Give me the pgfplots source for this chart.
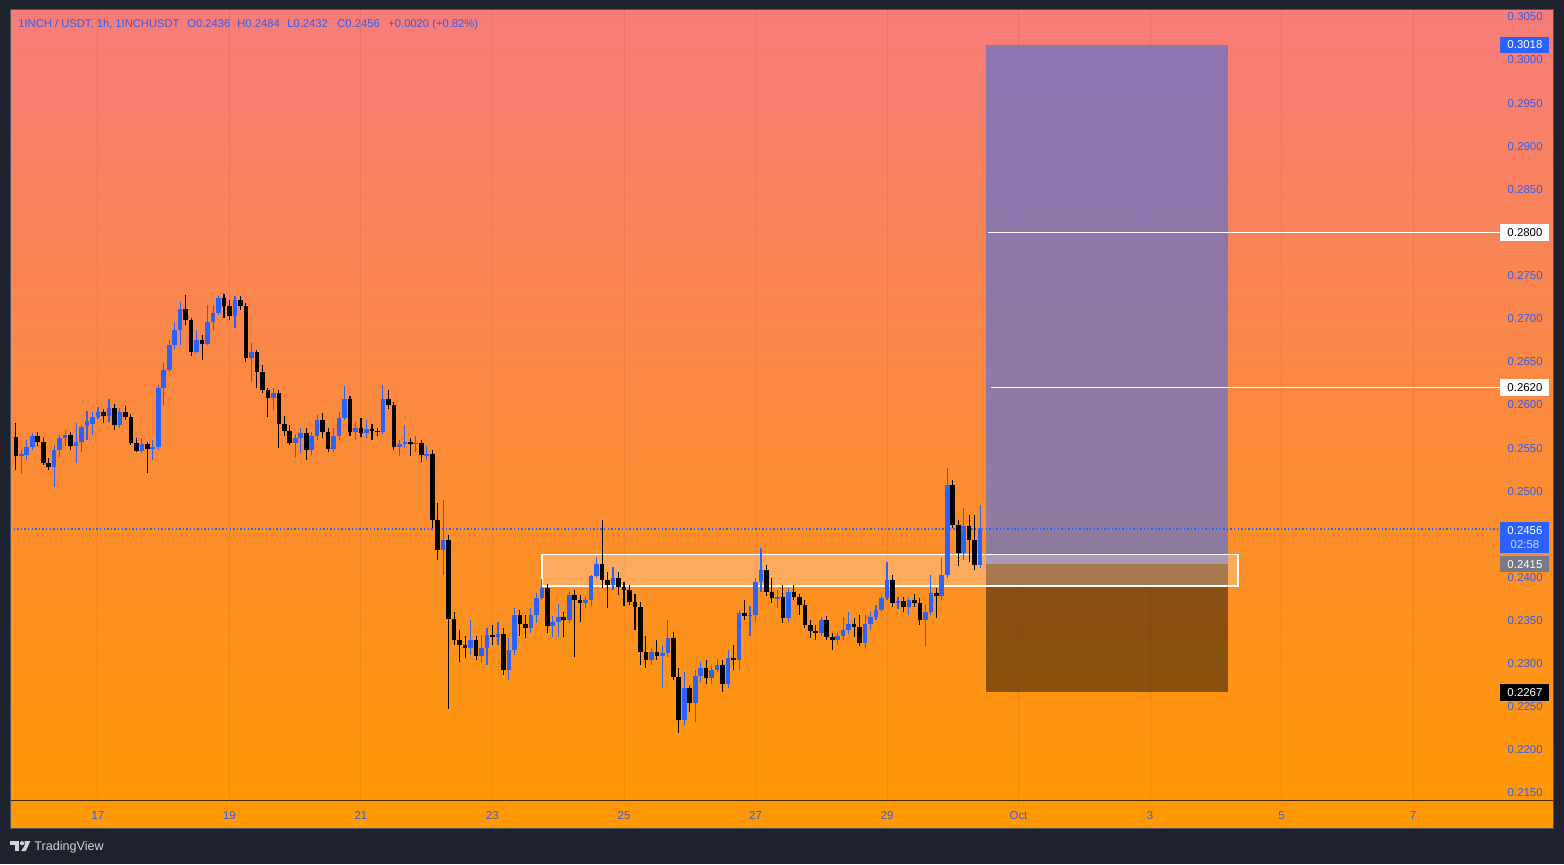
\documentclass[border=0pt]{standalone}
\usepackage{pgfplots}
\pgfplotsset{compat=1.18}
\usepackage{pgfplotstable}
\usepackage{fontspec}
\setmainfont{Liberation Sans}
\definecolor{frame}{RGB}{30,34,45}
\definecolor{bordergrey}{RGB}{80,83,94}
\definecolor{bgtop}{RGB}{247,124,122}
\definecolor{bgbot}{RGB}{255,152,0}
\definecolor{tvblue}{RGB}{41,98,255}
\definecolor{lblblue}{RGB}{50,95,235}
\definecolor{profit}{RGB}{107,116,199}
\definecolor{greylbl}{RGB}{120,123,134}
\definecolor{logogrey}{RGB}{209,212,220}
\definecolor{timecol}{RGB}{200,214,255}
\newcommand{\lblfont}{\fontsize{5.7}{7}\selectfont}

\pgfplotstableread{
t o h l c
-28 0.2541 0.2548 0.2520 0.2543
-26 0.2542 0.2559 0.2536 0.2551
-24 0.2551 0.2567 0.2548 0.2564
-16 0.2528 0.2554 0.2505 0.2548
-14 0.2548 0.2565 0.2540 0.2562
-12 0.2562 0.2571 0.2552 0.2565
-8 0.2552 0.2579 0.2533 0.2557
-6 0.2557 0.2577 0.2545 0.2574
-4 0.2576 0.2593 0.2559 0.2581
-2 0.2578 0.2592 0.2565 0.2586
0 0.2586 0.2598 0.2584 0.2592
4 0.2587 0.2607 0.2580 0.2596
8 0.2577 0.2596 0.2573 0.2592
16 0.2547 0.2562 0.2544 0.2555
20 0.2549 0.2559 0.2536 0.2551
22 0.2551 0.2623 0.2548 0.2620
24 0.2620 0.2649 0.2600 0.2641
26 0.2641 0.2675 0.2638 0.2670
28 0.2670 0.2696 0.2664 0.2687
30 0.2687 0.2719 0.2670 0.2711
36 0.2661 0.2687 0.2660 0.2675
40 0.2671 0.2716 0.2670 0.2696
42 0.2696 0.2716 0.2687 0.2707
44 0.2707 0.2726 0.2704 0.2724
50 0.2703 0.2726 0.2689 0.2722
56 0.2654 0.2672 0.2627 0.2661
64 0.2608 0.2620 0.2594 0.2614
72 0.2556 0.2566 0.2540 0.2562
74 0.2562 0.2573 0.2544 0.2567
78 0.2548 0.2569 0.2542 0.2564
80 0.2564 0.2588 0.2559 0.2583
86 0.2549 0.2573 0.2545 0.2564
88 0.2564 0.2592 0.2559 0.2585
90 0.2585 0.2622 0.2583 0.2607
94 0.2569 0.2580 0.2559 0.2573
98 0.2567 0.2583 0.2562 0.2572
104 0.2569 0.2623 0.2566 0.2607
110 0.2551 0.2559 0.2541 0.2555
112 0.2555 0.2577 0.2550 0.2557
116 0.2555 0.2564 0.2545 0.2556
120 0.2542 0.2552 0.2536 0.2543
126 0.2432 0.2490 0.2403 0.2443
136 0.2318 0.2351 0.2310 0.2327
140 0.2309 0.2333 0.2301 0.2318
142 0.2318 0.2341 0.2298 0.2333
146 0.2331 0.2348 0.2322 0.2334
150 0.2293 0.2330 0.2281 0.2316
152 0.2316 0.2364 0.2310 0.2357
158 0.2341 0.2364 0.2335 0.2356
160 0.2356 0.2382 0.2347 0.2376
162 0.2376 0.2398 0.2374 0.2388
166 0.2344 0.2355 0.2331 0.2348
168 0.2348 0.2369 0.2331 0.2354
172 0.2351 0.2383 0.2347 0.2380
178 0.2370 0.2377 0.2364 0.2374
180 0.2374 0.2403 0.2367 0.2402
182 0.2402 0.2424 0.2399 0.2416
188 0.2391 0.2412 0.2385 0.2399
202 0.2304 0.2318 0.2298 0.2313
206 0.2309 0.2322 0.2272 0.2312
208 0.2312 0.2351 0.2308 0.2330
214 0.2235 0.2290 0.2229 0.2272
218 0.2254 0.2293 0.2232 0.2286
220 0.2286 0.2302 0.2279 0.2295
224 0.2283 0.2299 0.2276 0.2293
226 0.2293 0.2306 0.2290 0.2299
230 0.2276 0.2316 0.2272 0.2306
234 0.2304 0.2362 0.2293 0.2359
238 0.2355 0.2367 0.2332 0.2357
240 0.2357 0.2399 0.2348 0.2395
242 0.2395 0.2434 0.2383 0.2409
248 0.2376 0.2385 0.2364 0.2377
252 0.2353 0.2388 0.2348 0.2383
264 0.2335 0.2354 0.2332 0.2351
270 0.2328 0.2337 0.2322 0.2332
272 0.2332 0.2354 0.2327 0.2339
274 0.2339 0.2360 0.2334 0.2346
280 0.2324 0.2357 0.2318 0.2346
282 0.2346 0.2360 0.2339 0.2354
284 0.2354 0.2368 0.2351 0.2362
286 0.2362 0.2380 0.2360 0.2376
288 0.2376 0.2418 0.2374 0.2397
292 0.2370 0.2377 0.2363 0.2373
296 0.2366 0.2376 0.2356 0.2374
302 0.2351 0.2369 0.2320 0.2360
304 0.2360 0.2403 0.2357 0.2382
308 0.2378 0.2422 0.2374 0.2403
310 0.2403 0.2527 0.2399 0.2507
316 0.2428 0.2480 0.2420 0.2460
322 0.2414 0.2484 0.2411 0.2456
}\upc

\pgfplotstableread{
t o h l c
-30 0.2563 0.2579 0.2525 0.2541
-22 0.2564 0.2569 0.2552 0.2557
-20 0.2557 0.2562 0.2530 0.2533
-18 0.2533 0.2538 0.2525 0.2528
-10 0.2565 0.2569 0.2548 0.2552
2 0.2592 0.2595 0.2579 0.2587
6 0.2596 0.2601 0.2571 0.2577
10 0.2592 0.2599 0.2583 0.2586
12 0.2586 0.2589 0.2554 0.2556
14 0.2556 0.2562 0.2545 0.2547
18 0.2555 0.2557 0.2521 0.2549
32 0.2711 0.2728 0.2693 0.2698
34 0.2698 0.2701 0.2657 0.2661
38 0.2675 0.2681 0.2652 0.2671
46 0.2724 0.2729 0.2701 0.2715
48 0.2715 0.2722 0.2698 0.2703
52 0.2722 0.2726 0.2710 0.2715
54 0.2715 0.2718 0.2650 0.2654
58 0.2661 0.2664 0.2620 0.2638
60 0.2638 0.2646 0.2614 0.2617
62 0.2617 0.2620 0.2586 0.2608
66 0.2614 0.2617 0.2550 0.2578
68 0.2578 0.2587 0.2564 0.2570
70 0.2570 0.2577 0.2554 0.2556
76 0.2567 0.2573 0.2536 0.2548
82 0.2583 0.2591 0.2562 0.2569
84 0.2569 0.2573 0.2545 0.2549
92 0.2607 0.2610 0.2564 0.2569
96 0.2573 0.2585 0.2563 0.2567
100 0.2572 0.2578 0.2559 0.2570
102 0.2570 0.2573 0.2564 0.2569
106 0.2607 0.2617 0.2595 0.2600
108 0.2600 0.2603 0.2548 0.2551
114 0.2557 0.2562 0.2541 0.2555
118 0.2556 0.2559 0.2534 0.2542
122 0.2543 0.2548 0.2457 0.2467
124 0.2467 0.2486 0.2420 0.2432
128 0.2443 0.2449 0.2248 0.2352
130 0.2352 0.2360 0.2322 0.2328
132 0.2328 0.2339 0.2302 0.2322
134 0.2322 0.2332 0.2306 0.2318
138 0.2327 0.2332 0.2304 0.2309
144 0.2333 0.2345 0.2322 0.2331
148 0.2334 0.2341 0.2287 0.2293
154 0.2357 0.2362 0.2332 0.2346
156 0.2346 0.2356 0.2330 0.2341
164 0.2388 0.2392 0.2335 0.2344
170 0.2354 0.2360 0.2331 0.2351
174 0.2380 0.2385 0.2308 0.2374
176 0.2374 0.2380 0.2348 0.2370
184 0.2416 0.2467 0.2388 0.2397
186 0.2397 0.2406 0.2364 0.2391
190 0.2399 0.2406 0.2380 0.2389
192 0.2389 0.2395 0.2367 0.2385
194 0.2385 0.2391 0.2368 0.2371
196 0.2371 0.2381 0.2339 0.2366
198 0.2366 0.2371 0.2298 0.2313
200 0.2313 0.2332 0.2295 0.2304
204 0.2313 0.2327 0.2304 0.2309
210 0.2330 0.2337 0.2281 0.2284
212 0.2284 0.2295 0.2220 0.2235
216 0.2272 0.2274 0.2244 0.2254
222 0.2295 0.2304 0.2276 0.2283
228 0.2299 0.2304 0.2267 0.2276
232 0.2306 0.2322 0.2293 0.2304
236 0.2359 0.2374 0.2351 0.2355
244 0.2409 0.2414 0.2378 0.2383
246 0.2383 0.2399 0.2370 0.2376
250 0.2377 0.2391 0.2347 0.2353
254 0.2383 0.2391 0.2374 0.2377
256 0.2377 0.2381 0.2356 0.2368
258 0.2368 0.2374 0.2341 0.2345
260 0.2345 0.2351 0.2330 0.2338
262 0.2338 0.2345 0.2327 0.2335
266 0.2351 0.2355 0.2327 0.2331
268 0.2331 0.2335 0.2316 0.2328
276 0.2346 0.2353 0.2331 0.2342
278 0.2342 0.2356 0.2320 0.2324
290 0.2397 0.2403 0.2366 0.2370
294 0.2373 0.2377 0.2360 0.2366
298 0.2374 0.2381 0.2366 0.2370
300 0.2370 0.2376 0.2345 0.2351
306 0.2382 0.2388 0.2353 0.2378
312 0.2507 0.2513 0.2457 0.2461
314 0.2461 0.2467 0.2413 0.2428
318 0.2460 0.2472 0.2418 0.2443
320 0.2443 0.2472 0.2409 0.2414
}\downc

\begin{document}
\begin{tikzpicture}[x=1pt,y=1pt]
\useasboundingbox (0,0) rectangle (782,432);
\fill[frame] (0,0) rectangle (782,432);
\shade[top color=bgtop, bottom color=bgbot] (5,18) rectangle (776.5,427);

\begin{axis}[
  at={(5pt,32pt)}, anchor=south west,
  width=743.5pt, height=395pt, scale only axis,
  xmin=-32.12, xmax=510.66, ymin=0.21419, ymax=0.30580,
  axis line style={draw=none},
  xtick={0,48,...,480},
  xticklabels={17,19,21,23,25,27,29,Oct,3,5,7},
  ytick={0.215,0.22,0.225,0.23,0.235,0.24,0.25,0.255,0.26,0.265,0.27,0.275,0.285,0.29,0.295,0.3,0.305},
  yticklabel pos=right,
  major tick length=0pt,
  xmajorgrids,
  grid style={black, opacity=0.06, line width=0.5pt},
  tick label style={font=\lblfont, text=lblblue, inner sep=0pt},
  xticklabel style={anchor=base, yshift=-9.5pt},
  yticklabel style={anchor=east, xshift=23pt, /pgf/number format/.cd, fixed, fixed zerofill, precision=4, assume math mode=true},
  clip=false,
  candle/.style={draw=none, mark=none, forget plot, error bars/.cd, y dir=both, y explicit, error mark=none},
]
% long position: profit and stop areas
\addplot[draw=none, fill=profit, fill opacity=0.75] coordinates {(324.1,0.2415) (412.5,0.2415) (412.5,0.3018) (324.1,0.3018)} -- cycle;
\addplot[draw=none, fill=black, fill opacity=0.45] coordinates {(324.1,0.2267) (412.5,0.2267) (412.5,0.2415) (324.1,0.2415)} -- cycle;
% zone
\addplot[draw=white, line width=0.6pt, fill=white, fill opacity=0.25] coordinates {(162.1,0.2390) (416.1,0.2390) (416.1,0.2427) (162.1,0.2427)} -- cycle;
% target lines
\addplot[white, line width=0.5pt] coordinates {(324.9,0.2800) (511.76,0.2800)};
\addplot[white, line width=0.5pt] coordinates {(326.0,0.2620) (511.76,0.2620)};
% current price dotted line
\addplot[tvblue, line width=0.7pt, dash pattern=on 0.7pt off 1.1pt] coordinates {(-32.12,0.2456) (511.76,0.2456)};

% candles: down (black)
\addplot[candle, error bar style={draw=black, line width=0.55pt}]
  table[x=t, y expr={(\thisrow{h}+\thisrow{l})/2}, y error expr={(\thisrow{h}-\thisrow{l})/2}] {\downc};
\addplot[candle, error bar style={draw=black, line width=2.3pt}]
  table[x=t, y expr={(\thisrow{o}+\thisrow{c})/2}, y error expr={max(abs(\thisrow{c}-\thisrow{o})/2,0.00003)}] {\downc};
% candles: up (blue)
\addplot[candle, error bar style={draw=tvblue, line width=0.55pt}]
  table[x=t, y expr={(\thisrow{h}+\thisrow{l})/2}, y error expr={(\thisrow{h}-\thisrow{l})/2}] {\upc};
\addplot[candle, error bar style={draw=tvblue, line width=2.3pt}]
  table[x=t, y expr={(\thisrow{o}+\thisrow{c})/2}, y error expr={max(abs(\thisrow{c}-\thisrow{o})/2,0.00003)}] {\upc};

\coordinate (L3018) at (axis cs:511.76,0.3018);
\coordinate (L2800) at (axis cs:511.76,0.2800);
\coordinate (L2620) at (axis cs:511.76,0.2620);
\coordinate (L2456) at (axis cs:511.76,0.24643);
\coordinate (L2415) at (axis cs:511.76,0.2415);
\coordinate (L2267) at (axis cs:511.76,0.2267);
\end{axis}

% bottom axis line and border
\draw[black, opacity=0.75, line width=0.5pt] (5,32) -- (776.5,32);
\draw[bordergrey, line width=0.5pt] (5,18) rectangle (776.5,427);

% price labels
\node[fill=tvblue, text=white, anchor=west, minimum width=24.5pt, minimum height=8pt, inner sep=0pt, font=\lblfont] at (L3018) {0.3018};
\node[fill=white, text=black, anchor=west, minimum width=24.5pt, minimum height=8.5pt, inner sep=0pt, font=\lblfont] at (L2800) {0.2800};
\node[fill=white, text=black, anchor=west, minimum width=24.5pt, minimum height=8.5pt, inner sep=0pt, font=\lblfont] at (L2620) {0.2620};
\node[fill=tvblue, text=white, anchor=north west, minimum width=24.5pt, minimum height=15.5pt, inner sep=0pt, align=center, font=\lblfont] at (L2456) {0.2456\\\textcolor{timecol}{02:58}};
\node[fill=greylbl, text=white, anchor=west, minimum width=24.5pt, minimum height=8pt, inner sep=0pt, font=\lblfont] at (L2415) {0.2415};
\node[fill=black, text=white, anchor=west, minimum width=24.5pt, minimum height=8.5pt, inner sep=0pt, font=\lblfont] at (L2267) {0.2267};

% title legend
\begin{scope}[every node/.style={anchor=base west, inner sep=0pt, text=lblblue, font=\fontsize{5.6}{6}\selectfont}]
\node at (9,418) {1INCH / USDT, 1h, 1INCHUSDT};
\node at (93.5,418) {O0.2436};
\node at (118.5,418) {H0.2484};
\node at (143.5,418) {L0.2432};
\node at (168.5,418) {C0.2456};
\node at (194,418) {+0.0020 (+0.82\%)};
\end{scope}

% TradingView logo
\fill[logogrey] (5,11.5) rectangle (9.6,9.6);
\fill[logogrey] (7.3,9.6) rectangle (9.6,6.5);
\fill[logogrey] (11,10.4) circle (1.05);
\fill[logogrey] (12.3,11.5) -- (15.2,11.5) -- (12.9,6.5) -- (10.6,6.5) -- (12.3,9.2) -- cycle;
\node[anchor=base west, inner sep=0pt, text=logogrey, font=\fontsize{6.3}{7}\selectfont] at (17,6.6) {TradingView};
\end{tikzpicture}
\end{document}
